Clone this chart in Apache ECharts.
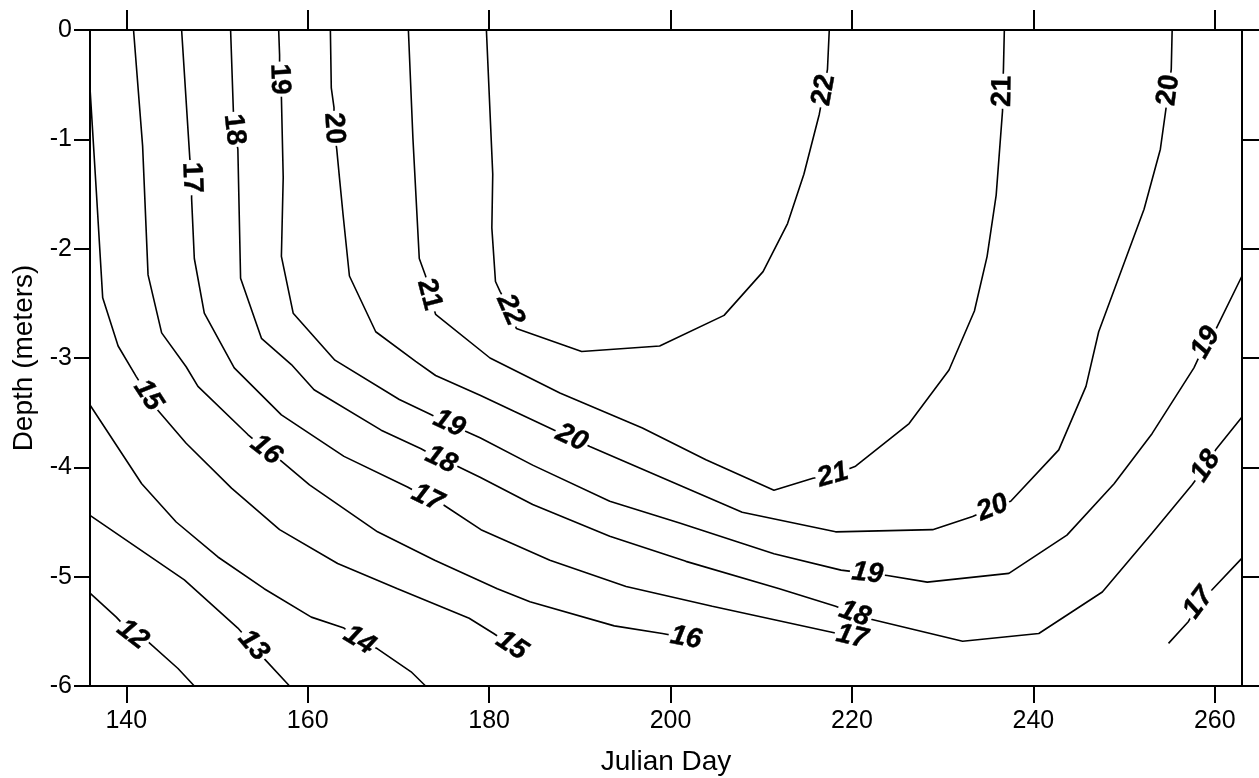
<!DOCTYPE html>
<html><head><meta charset="utf-8">
<script src="https://cdn.jsdelivr.net/npm/echarts@6/dist/echarts.min.js"></script>
<style>html,body{margin:0;padding:0;background:#fff}#c{width:1259px;height:778px}</style>
</head><body><div id="c"></div>
<script>
const xTicks = [140, 160, 180, 200, 220, 240, 260];
const xLabel = 'Julian Day';
const yLabel = 'Depth (meters)';

// contour polylines: [Julian day, depth]
const c12 = [[136.0,-5.15],[138.9,-5.37],[140.7,-5.53],[142.2,-5.58],[145.7,-5.84],[147.5,-6.0]];
const c13 = [[136.0,-4.44],[146.4,-5.03],[152.3,-5.47],[154.0,-5.63],[155.2,-5.75],[158.0,-6.0]];
const c14 = [[136.0,-3.43],[141.7,-4.15],[145.5,-4.50],[150.1,-4.82],[155.2,-5.11],[160.4,-5.37],[164.0,-5.47],[165.7,-5.58],[167.7,-5.66],[171.4,-5.87],[173.0,-6.0]];
const c15 = [[136.0,-0.53],[136.7,-1.48],[137.4,-2.45],[139.1,-2.89],[141.1,-3.17],[142.4,-3.34],[143.5,-3.48],[146.6,-3.78],[151.6,-4.19],[156.9,-4.57],[163.3,-4.88],[169.9,-5.11],[177.8,-5.38],[180.5,-5.52],[182.5,-5.63]];
const c16 = [[140.8,0],[141.8,-1.06],[142.4,-2.24],[143.9,-2.77],[146.6,-3.08],[147.9,-3.26],[153.4,-3.70],[155.4,-3.84],[156.9,-3.93],[160.2,-4.16],[167.7,-4.59],[174.0,-4.85],[180.9,-5.11],[184.5,-5.23],[193.8,-5.45],[199.1,-5.52],[201.7,-5.56]];
const c17 = [[146.1,0],[147.0,-1.17],[147.2,-1.35],[147.2,-1.54],[147.5,-2.09],[148.6,-2.59],[151.9,-3.09],[157.1,-3.52],[164.0,-3.90],[171.0,-4.18],[173.2,-4.28],[174.9,-4.34],[179.1,-4.57],[186.7,-4.85],[195.1,-5.09],[204.6,-5.27],[217.9,-5.51],[220.0,-5.55]];
const c17b = [[263,-4.83],[259.7,-5.12],[258.2,-5.24],[257.1,-5.41],[254.9,-5.61]];
const c18 = [[151.5,0],[151.8,-0.73],[151.9,-0.91],[152.3,-1.09],[152.6,-2.27],[154.9,-2.82],[158.2,-3.06],[160.7,-3.29],[168.1,-3.66],[172.5,-3.83],[174.7,-3.93],[176.5,-3.99],[179.0,-4.09],[184.8,-4.34],[193.3,-4.63],[201.7,-4.86],[212.0,-5.11],[218.2,-5.27],[220.3,-5.34],[222.1,-5.39],[232.2,-5.59],[240.6,-5.52],[247.6,-5.14],[253.1,-4.60],[257.5,-4.16],[259.0,-3.99],[260.1,-3.84],[263,-3.54]];
const c19 = [[156.8,0],[156.9,-0.23],[156.9,-0.45],[157.1,-0.61],[157.3,-1.35],[157.1,-2.07],[158.4,-2.59],[163.0,-3.02],[170.1,-3.38],[173.4,-3.51],[175.6,-3.60],[177.4,-3.67],[179.0,-3.73],[184.8,-3.98],[193.3,-4.31],[201.0,-4.51],[211.4,-4.79],[218.8,-4.94],[221.7,-4.97],[223.9,-4.99],[228.3,-5.05],[237.3,-4.97],[243.7,-4.62],[248.9,-4.15],[253.1,-3.69],[257.7,-3.09],[259.0,-2.86],[260.1,-2.74],[263,-2.25]];
const c20 = [[162.5,0],[162.6,-0.53],[162.9,-0.71],[162.9,-0.90],[163.2,-1.09],[163.5,-1.35],[163.9,-1.69],[164.6,-2.25],[167.5,-2.76],[171.9,-3.03],[174.1,-3.16],[179.0,-3.34],[182.8,-3.49],[187.2,-3.66],[189.1,-3.73],[191.1,-3.81],[207.9,-4.41],[218.2,-4.59],[228.9,-4.57],[233.3,-4.45],[235.5,-4.37],[237.5,-4.31],[242.8,-3.84],[245.8,-3.26],[247.2,-2.76],[252.2,-1.64],[254.0,-1.09],[254.6,-0.73],[254.9,-0.55],[255.2,-0.36],[255.3,0]];
const c21 = [[171.1,0],[171.6,-0.99],[172.3,-2.09],[173.0,-2.25],[173.4,-2.42],[174.1,-2.60],[180.1,-3.00],[187.8,-3.32],[196.9,-3.64],[203.9,-3.93],[211.4,-4.21],[215.7,-4.10],[217.9,-4.07],[220.4,-3.99],[226.3,-3.60],[230.7,-3.11],[233.5,-2.57],[234.9,-2.07],[235.9,-1.51],[236.6,-0.74],[236.6,-0.56],[236.7,-0.36],[236.8,0]];
const c22 = [[179.7,0],[180.4,-1.32],[180.3,-1.81],[180.7,-2.30],[181.2,-2.39],[182.3,-2.56],[183.0,-2.73],[190.2,-2.94],[198.8,-2.89],[205.9,-2.61],[210.2,-2.21],[212.9,-1.77],[214.7,-1.32],[216.4,-0.77],[216.9,-0.55],[217.3,-0.36],[217.5,0]];

const contourLines = [c12, c13, c14, c15, c16, c17, c17b, c18, c19, c20, c21, c22];

// contour labels: [text, line, vertex index]
const contourLabels = [
  ['12', c12, 2], ['13', c13, 3], ['14', c14, 7],
  ['15', c15, 5], ['15', c15, 14],
  ['16', c16, 7], ['16', c16, 16],
  ['18', c18, 2], ['18', c18, 10], ['18', c18, 18], ['18', c18, 25],
  ['17', c17, 2], ['17', c17, 10], ['17', c17, 17], ['17', c17b, 2],
  ['19', c19, 2], ['19', c19, 10], ['19', c19, 18], ['19', c19, 26],
  ['20', c20, 3], ['20', c20, 14], ['20', c20, 20], ['20', c20, 28],
  ['21', c21, 4], ['21', c21, 12], ['21', c21, 20],
  ['22', c22, 5], ['22', c22, 14]
];

const FONT = "'Liberation Sans', Arial, Helvetica, sans-serif";
const LABEL_FONT = "'Liberation Sans Narrow', 'Arial Narrow', 'Liberation Sans', Arial, sans-serif";
const chart = echarts.init(document.getElementById('c'), null, {renderer: 'canvas'});

const axisLineStyle = {color: '#000', width: 2};
const baseOption = {
  animation: false,
  backgroundColor: '#fff',
  grid: {left: 90, right: 17, top: 30, bottom: 92, containLabel: false, outerBoundsMode: 'none'},
  xAxis: [{
    type: 'value', min: 136, max: 263, position: 'bottom',
    name: xLabel, nameLocation: 'middle', nameGap: 62,
    nameTextStyle: {fontSize: 28, color: '#000', fontFamily: FONT},
    axisLine: {show: true, onZero: false, lineStyle: axisLineStyle},
    axisTick: {show: true, inside: false, length: 17, customValues: xTicks, lineStyle: {color: '#000', width: 2}},
    axisLabel: {show: true, customValues: xTicks, margin: 23, fontSize: 25, color: '#000', fontFamily: FONT},
    splitLine: {show: false}
  }, {
    type: 'value', min: 136, max: 263, position: 'top',
    axisLine: {show: true, onZero: false, lineStyle: axisLineStyle},
    axisTick: {show: true, inside: false, length: 20, customValues: xTicks, lineStyle: {color: '#000', width: 2}},
    axisLabel: {show: false},
    splitLine: {show: false}
  }],
  yAxis: [{
    type: 'value', min: -6, max: 0, interval: 1, position: 'left',
    name: yLabel, nameLocation: 'middle', nameGap: 52, nameRotate: 90,
    nameTextStyle: {fontSize: 28, color: '#000', fontFamily: FONT},
    axisLine: {show: true, onZero: false, lineStyle: axisLineStyle},
    axisTick: {show: true, inside: false, length: 16, lineStyle: {color: '#000', width: 2}},
    axisLabel: {show: true, margin: 18, fontSize: 25, color: '#000', fontFamily: FONT},
    splitLine: {show: false}
  }, {
    type: 'value', min: -6, max: 0, interval: 1, position: 'right',
    axisLine: {show: true, onZero: false, lineStyle: axisLineStyle},
    axisTick: {show: true, inside: false, length: 17, lineStyle: {color: '#000', width: 2}},
    axisLabel: {show: false},
    splitLine: {show: false}
  }],
  series: contourLines.map(function (pts) {
    return {
      type: 'line', xAxisIndex: 0, yAxisIndex: 0, data: pts,
      symbol: 'none', smooth: false, z: 2, silent: true,
      lineStyle: {color: '#000', width: 1.6}
    };
  })
};
chart.setOption(baseOption);

function labelAngle(line, i) {
  const a = chart.convertToPixel({xAxisIndex: 0, yAxisIndex: 0}, line[Math.max(0, i - 1)]);
  const b = chart.convertToPixel({xAxisIndex: 0, yAxisIndex: 0}, line[Math.min(line.length - 1, i + 1)]);
  let ang = Math.atan2(-(b[1] - a[1]), b[0] - a[0]) * 180 / Math.PI;
  if (ang > 90) ang -= 180;
  if (ang <= -90) ang += 180;
  return ang;
}

const labelData = contourLabels.map(function (l) {
  const ang = labelAngle(l[1], l[2]);
  return {
    name: l[0], value: l[1][l[2]],
    label: {rotate: ang, fontStyle: Math.abs(ang) < 70 ? 'italic' : 'normal'}
  };
});

chart.setOption({
  series: baseOption.series.concat([{
    type: 'scatter', xAxisIndex: 0, yAxisIndex: 0, z: 10, silent: true,
    symbolSize: 1, itemStyle: {color: 'rgba(0,0,0,0)'},
    data: labelData,
    label: {
      show: true, position: 'inside', formatter: '{b}', opacity: 1,
      fontSize: 28, lineHeight: 21, fontWeight: 'bold', color: '#000', fontFamily: LABEL_FONT,
      textBorderColor: '#000', textBorderWidth: 0.4,
      backgroundColor: '#fff', padding: [0, 2]
    }
  }])
});
</script>
</body></html>
